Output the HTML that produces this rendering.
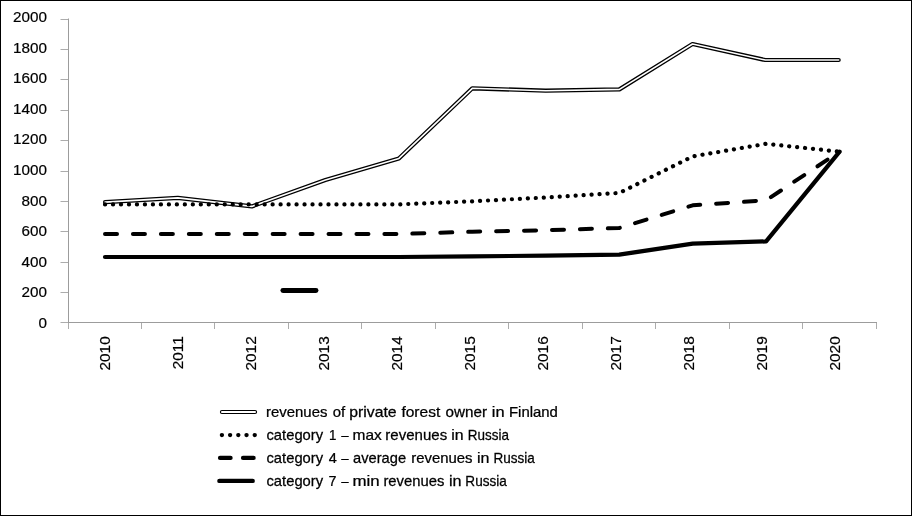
<!DOCTYPE html>
<html><head><meta charset="utf-8"><title>chart</title>
<style>
html,body{margin:0;padding:0;background:#fff;}
body{width:912px;height:516px;overflow:hidden;}
svg{display:block;will-change:transform;}
text{font-family:"Liberation Sans", sans-serif;fill:#000;}
</style></head><body>
<svg width="912" height="516" viewBox="0 0 912 516">
<rect x="0" y="0" width="912" height="516" fill="#fff"/>
<rect x="0.5" y="0.5" width="911" height="515" fill="none" stroke="#000" stroke-width="1"/>

<g stroke="#9c9c9c" stroke-width="1" fill="none">
<line x1="68.5" y1="18.5" x2="68.5" y2="323.0"/>
<line x1="68.0" y1="322.5" x2="877.0" y2="322.5"/>
</g>
<g stroke="#acacac" stroke-width="1" fill="none">
<line x1="60.5" y1="322.5" x2="68.0" y2="322.5"/>
<line x1="60.5" y1="292.5" x2="68.0" y2="292.5"/>
<line x1="60.5" y1="262.5" x2="68.0" y2="262.5"/>
<line x1="60.5" y1="231.5" x2="68.0" y2="231.5"/>
<line x1="60.5" y1="201.5" x2="68.0" y2="201.5"/>
<line x1="60.5" y1="171.5" x2="68.0" y2="171.5"/>
<line x1="60.5" y1="140.5" x2="68.0" y2="140.5"/>
<line x1="60.5" y1="110.5" x2="68.0" y2="110.5"/>
<line x1="60.5" y1="79.5" x2="68.0" y2="79.5"/>
<line x1="60.5" y1="49.5" x2="68.0" y2="49.5"/>
<line x1="60.5" y1="19.5" x2="68.0" y2="19.5"/>
<line x1="68.5" y1="323.0" x2="68.5" y2="329.0"/>
<line x1="141.5" y1="323.0" x2="141.5" y2="329.0"/>
<line x1="214.5" y1="323.0" x2="214.5" y2="329.0"/>
<line x1="288.5" y1="323.0" x2="288.5" y2="329.0"/>
<line x1="361.5" y1="323.0" x2="361.5" y2="329.0"/>
<line x1="435.5" y1="323.0" x2="435.5" y2="329.0"/>
<line x1="508.5" y1="323.0" x2="508.5" y2="329.0"/>
<line x1="582.5" y1="323.0" x2="582.5" y2="329.0"/>
<line x1="655.5" y1="323.0" x2="655.5" y2="329.0"/>
<line x1="729.5" y1="323.0" x2="729.5" y2="329.0"/>
<line x1="802.5" y1="323.0" x2="802.5" y2="329.0"/>
<line x1="876.5" y1="323.0" x2="876.5" y2="329.0"/>
</g>
<g font-size="14.8" text-anchor="end" stroke="#000" stroke-width="0.2">
<text transform="translate(46.9,327.5) scale(1.03,1)">0</text>
<text transform="translate(46.9,297.0) scale(1.03,1)">200</text>
<text transform="translate(46.9,266.5) scale(1.03,1)">400</text>
<text transform="translate(46.9,236.0) scale(1.03,1)">600</text>
<text transform="translate(46.9,205.5) scale(1.03,1)">800</text>
<text transform="translate(46.9,175.0) scale(1.03,1)">1000</text>
<text transform="translate(46.9,144.4) scale(1.03,1)">1200</text>
<text transform="translate(46.9,113.9) scale(1.03,1)">1400</text>
<text transform="translate(46.9,83.4) scale(1.03,1)">1600</text>
<text transform="translate(46.9,52.9) scale(1.03,1)">1800</text>
<text transform="translate(46.9,22.4) scale(1.03,1)">2000</text>
</g>
<g font-size="14.8" text-anchor="end" stroke="#000" stroke-width="0.2">
<text transform="translate(110.4,336.3) rotate(-90) scale(1.04,1)">2010</text>
<text transform="translate(183.3,336.3) rotate(-90) scale(1.04,1)">2011</text>
<text transform="translate(256.2,336.3) rotate(-90) scale(1.04,1)">2012</text>
<text transform="translate(329.2,336.3) rotate(-90) scale(1.04,1)">2013</text>
<text transform="translate(402.1,336.3) rotate(-90) scale(1.04,1)">2014</text>
<text transform="translate(475.0,336.3) rotate(-90) scale(1.04,1)">2015</text>
<text transform="translate(547.9,336.3) rotate(-90) scale(1.04,1)">2016</text>
<text transform="translate(620.8,336.3) rotate(-90) scale(1.04,1)">2017</text>
<text transform="translate(693.8,336.3) rotate(-90) scale(1.04,1)">2018</text>
<text transform="translate(766.7,336.3) rotate(-90) scale(1.04,1)">2019</text>
<text transform="translate(839.6,336.3) rotate(-90) scale(1.04,1)">2020</text>
</g>
<polyline points="105.1,202.1 177.8,197.9 251.8,206.4 325.4,180.1 398.9,158.4 472.3,88.3 545.7,90.7 619.4,89.4 692.5,44.0 765.2,60.0 838.7,60.0" fill="none" stroke="#000" stroke-width="4.2" stroke-linejoin="round" stroke-linecap="round"/>
<polyline points="105.1,202.1 177.8,197.9 251.8,206.4 325.4,180.1 398.9,158.4 472.3,88.3 545.7,90.7 619.4,89.4 692.5,44.0 765.2,60.0 838.7,60.0" fill="none" stroke="#fff" stroke-width="1.6" stroke-linejoin="round" stroke-linecap="round"/>
<polyline points="105.0,204.4 178.5,204.4 251.9,204.4 325.4,204.4 398.8,204.4 472.3,201.3 545.8,197.5 619.2,193.0 692.7,156.4 766.1,143.8 839.6,151.7" fill="none" stroke="#000" stroke-width="4.2" stroke-dasharray="0.1 7.88" stroke-linejoin="round" stroke-linecap="round"/>
<polyline points="105.0,234.0 178.5,234.0 251.9,234.0 325.4,234.0 398.8,234.0 472.3,231.7 545.8,230.2 619.2,228.0 692.7,205.3 766.1,200.3 839.6,151.7" fill="none" stroke="#000" stroke-width="4" stroke-dasharray="12 15.94" stroke-linejoin="round" stroke-linecap="round"/>
<polyline points="105.0,257.0 178.5,257.0 251.9,257.0 325.4,257.0 398.8,257.0 472.3,256.4 545.8,255.6 619.2,254.7 692.7,243.7 766.1,241.4 839.6,151.7" fill="none" stroke="#000" stroke-width="4.2" stroke-linejoin="round" stroke-linecap="round"/>
<polygon points="835,150.4 841.2,150.4 840.6,153.5 836,154" fill="#000"/>
<line x1="282.9" y1="290.5" x2="316" y2="290.5" stroke="#000" stroke-width="4.9" stroke-linecap="round"/>
<line x1="221.9" y1="412.0" x2="255.1" y2="412.0" stroke="#000" stroke-width="4.1" stroke-linecap="round"/>
<line x1="221.9" y1="412.0" x2="255.1" y2="412.0" stroke="#fff" stroke-width="1.8" stroke-linecap="round"/>
<line x1="221.85" y1="435.1" x2="255.5" y2="435.1" stroke="#000" stroke-width="4.3" stroke-dasharray="0.1 8.11" stroke-linecap="round"/>
<line x1="220.0" y1="457.9" x2="253.6" y2="457.9" stroke="#000" stroke-width="4.2" stroke-dasharray="10.6 12.4" stroke-linecap="round"/>
<line x1="219.4" y1="480.9" x2="252.7" y2="480.9" stroke="#000" stroke-width="4.4" stroke-linecap="round"/>
<g font-size="14.2" stroke="#000" stroke-width="0.25">
<text transform="translate(266.09,417.2) scale(1.051,1)">revenues</text>
<text transform="translate(332.79,417.2) scale(1.051,1)">of</text>
<text transform="translate(349.23,417.2) scale(1.113,1)">private</text>
<text transform="translate(401.39,417.2) scale(1.096,1)">forest</text>
<text transform="translate(445.48,417.2) scale(1.074,1)">owner</text>
<text transform="translate(491.79,417.2) scale(1.156,1)">in</text>
<text transform="translate(508.99,417.2) scale(1.051,1)">Finland</text>
<text transform="translate(266.50,440.2) scale(1.040,1)">category</text>
<text transform="translate(329.07,440.2) scale(0.940,1)">1</text>
<text transform="translate(341.25,440.2) scale(0.940,1)">–</text>
<text transform="translate(352.56,440.2) scale(1.089,1)">max</text>
<text transform="translate(385.28,440.2) scale(1.060,1)">revenues</text>
<text transform="translate(451.33,440.2) scale(1.118,1)">in</text>
<text transform="translate(467.81,440.2) scale(0.950,1)">Russia</text>
<text transform="translate(266.50,462.8) scale(1.040,1)">category</text>
<text transform="translate(328.66,462.8) scale(1.021,1)">4</text>
<text transform="translate(341.25,462.8) scale(0.940,1)">–</text>
<text transform="translate(353.00,462.8) scale(1.034,1)">average</text>
<text transform="translate(411.19,462.8) scale(1.051,1)">revenues</text>
<text transform="translate(476.92,462.8) scale(1.129,1)">in</text>
<text transform="translate(493.50,462.8) scale(0.952,1)">Russia</text>
<text transform="translate(266.50,485.6) scale(1.040,1)">category</text>
<text transform="translate(328.52,485.6) scale(1.011,1)">7</text>
<text transform="translate(341.25,485.6) scale(0.940,1)">–</text>
<text transform="translate(352.46,485.6) scale(1.187,1)">min</text>
<text transform="translate(383.40,485.6) scale(1.044,1)">revenues</text>
<text transform="translate(448.91,485.6) scale(1.140,1)">in</text>
<text transform="translate(465.35,485.6) scale(0.956,1)">Russia</text>
</g>
</svg>
</body></html>
